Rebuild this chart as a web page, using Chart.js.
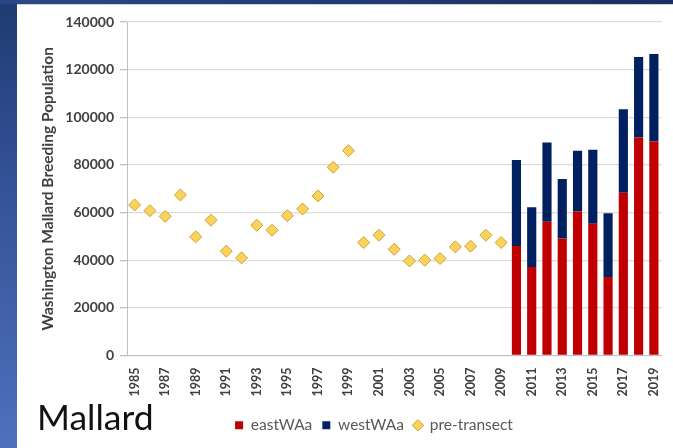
<!DOCTYPE html>
<html>
<head>
<meta charset="utf-8">
<script src="https://cdn.jsdelivr.net/npm/chart.js@4/dist/chart.umd.min.js"></script>
<style>
    html, body {
        margin: 0;
        padding: 0;
        width: 673px;
        height: 448px;
        overflow: hidden;
    }
    body {
        background: linear-gradient(180deg, #1f3b73 0%, #36549a 45%, #5070bd 100%);
        position: relative;
        font-family: Lato, "Liberation Sans", sans-serif;
    }
    #topBar {
        position: absolute;
        left: 0; top: 0;
        width: 673px; height: 4px;
        background: linear-gradient(90deg, #2b4786, #1a2f60);
    }
    #panel {
        position: absolute;
        left: 17px; top: 4px;
        width: 656px; height: 444px;
        background: #ffffff;
        border-top: 1px solid #d0d4dc;
        box-sizing: border-box;
    }
    #chartBox {
        position: absolute;
        left: 0; top: -1px;
        width: 656px; height: 444px;
    }
    #mallard {
        position: absolute;
        left: 20px; top: 390px;
        font-size: 35.5px;
        color: #111111;
        font-family: Lato, "Liberation Sans", sans-serif;
    }
</style>
</head>
<body>
<div id="topBar"></div>
<div id="panel">
    <div id="chartBox"><canvas id="mallardChart"></canvas></div>
    <div id="mallard">Mallard</div>
</div>
<script>
// years on the x axis
const years = [];
for (let y = 1985; y <= 2019; y++) years.push(String(y));

// pre-transect estimates 1985-2009
const preTransect = [63200, 60800, 58400, 67400, 49800, 56800, 43800, 41000, 54700, 52600,
    58700, 61500, 67000, 79000, 86000, 47400, 50500, 44600, 39700, 40000,
    40700, 45600, 45900, 50500, 47400];

// transect survey 2010-2019
const eastWAa = [46000, 37200, 56100, 49100, 60500, 55300, 33000, 68300, 91500, 89800];
const westWAa = [36100, 25000, 33300, 25000, 25500, 31100, 26700, 35100, 33800, 36800];

const yTicks = [0, 20000, 40000, 60000, 80000, 100000, 120000, 140000];

// pad series out to the full year range
const gap = years.length - preTransect.length;
const preData = preTransect.concat(new Array(gap).fill(null));
const eastData = new Array(preTransect.length).fill(null).concat(eastWAa);
const westData = new Array(preTransect.length).fill(null).concat(westWAa);

const legendOrder = ['eastWAa', 'westWAa', 'pre-transect'];

// move the legend a bit to the right, like the original
const shiftLegend = {
    id: 'shiftLegend',
    afterLayout(chart) {
        chart.legend.left += 33;
        chart.legend.right += 33;
    }
};

const ctx = document.getElementById('mallardChart').getContext('2d');
const mallardChart = new Chart(ctx, {
    type: 'bar',
    data: {
        labels: years,
        datasets: [
            {
                type: 'line',
                label: 'pre-transect',
                data: preData,
                showLine: false,
                pointStyle: 'rectRot',
                pointRadius: 6,
                pointBackgroundColor: '#fcd35a',
                pointBorderColor: '#c9a23a',
                pointBorderWidth: 1,
                backgroundColor: '#fcd35a',
                borderColor: '#c9a23a',
                order: 0
            },
            {
                label: 'eastWAa',
                data: eastData,
                backgroundColor: '#c00000',
                pointStyle: 'rect',
                barPercentage: 0.6,
                categoryPercentage: 1,
                order: 1
            },
            {
                label: 'westWAa',
                data: westData,
                backgroundColor: '#002060',
                pointStyle: 'rect',
                barPercentage: 0.6,
                categoryPercentage: 1,
                order: 1
            }
        ]
    },
    options: {
        responsive: true,
        maintainAspectRatio: false,
        animation: false,
        layout: {
            padding: { top: 18, right: 8, bottom: 5, left: 0 }
        },
        plugins: {
            legend: {
                position: 'bottom',
                labels: {
                    usePointStyle: true,
                    boxWidth: 8,
                    boxHeight: 8,
                    padding: 10,
                    color: '#595959',
                    font: { family: 'Lato', size: 15.5 },
                    sort: (a, b) => legendOrder.indexOf(a.text) - legendOrder.indexOf(b.text)
                }
            },
            tooltip: { enabled: false }
        },
        scales: {
            x: {
                stacked: true,
                grid: { display: false },
                border: { display: true, color: '#bfbfbf' },
                ticks: {
                    autoSkip: false,
                    maxRotation: 90,
                    minRotation: 90,
                    color: '#404040',
                    font: { family: 'Lato', size: 12.5, weight: 'bold' },
                    padding: 4,
                    callback: function (value, index) {
                        return index % 2 === 0 ? years[index] : '';
                    }
                },
                afterFit: function (scale) {
                    scale.height = 52;
                }
            },
            y: {
                stacked: true,
                min: 0,
                max: 140000,
                afterBuildTicks: function (scale) {
                    scale.ticks = yTicks.map(v => ({ value: v }));
                },
                grid: {
                    color: '#dcdcdc',
                    lineWidth: 1.3,
                    tickLength: 7,
                    tickColor: '#bfbfbf'
                },
                border: { display: true, color: '#bfbfbf' },
                ticks: {
                    color: '#404040',
                    font: { family: 'Lato', size: 14, weight: 'bold' },
                    padding: 6,
                    callback: function (value) {
                        return String(value);
                    }
                },
                title: {
                    display: true,
                    text: 'Washington Mallard Breeding Population',
                    color: '#404040',
                    font: { family: 'Lato', size: 15.5, weight: 'bold' },
                    padding: { top: 22, bottom: 4 }
                },
                afterFit: function (scale) {
                    scale.width = 110;
                }
            }
        }
    },
    plugins: [shiftLegend]
});
</script>
</body>
</html>
